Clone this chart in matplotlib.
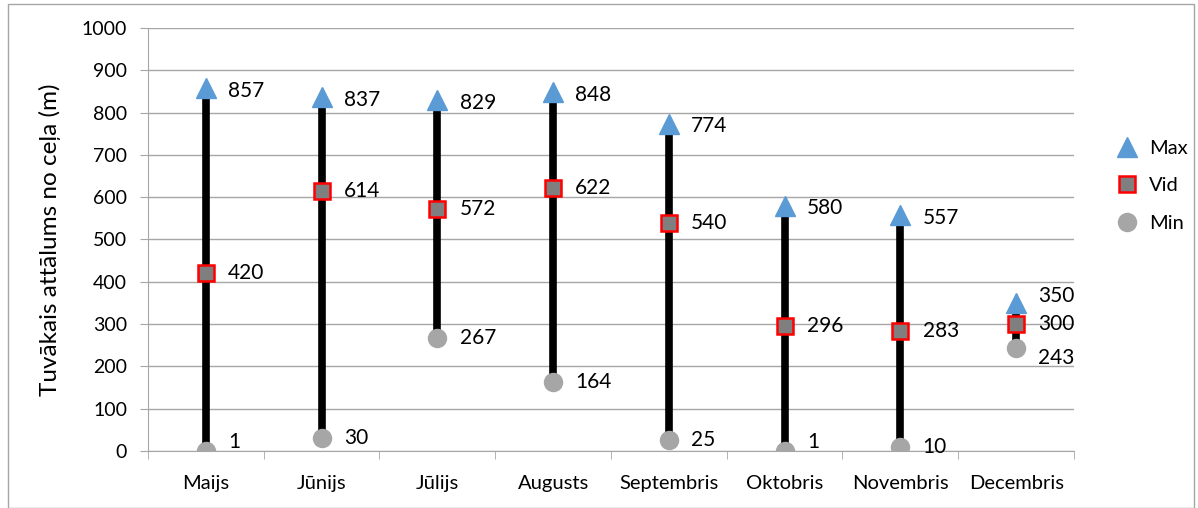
import matplotlib.pyplot as plt
import matplotlib.patches as patches

plt.rcParams['font.family'] = ['Lato', 'DejaVu Sans']

# dati
menesi = ["Maijs", "Jūnijs", "Jūlijs", "Augusts", "Septembris", "Oktobris", "Novembris", "Decembris"]
max_v = [857, 837, 829, 848, 774, 580, 557, 350]
vid_v = [420, 614, 572, 622, 540, 296, 283, 300]
min_v = [1, 30, 267, 164, 25, 1, 10, 243]

fig = plt.figure(figsize=(11.98, 5.08), dpi=100)
ax = fig.add_axes([0.1235, 0.1122, 0.773, 0.8327])

x = list(range(len(menesi)))

# vertikālās līnijas min-max
ax.vlines(x, min_v, max_v, color='black', linewidth=5.5, zorder=2)

ax.plot(x, max_v, linestyle='none', marker='^', markersize=15, color='#5b9bd5', label='Max', zorder=3)
ax.plot(x, vid_v, linestyle='none', marker='s', markersize=12, markerfacecolor='#7f7f7f',
        markeredgecolor='#ff0000', markeredgewidth=1.8, label='Vid', zorder=4)
ax.plot(x, min_v, linestyle='none', marker='o', markersize=13, color='#a6a6a6', label='Min', zorder=3)

# datu etiķetes
for i in x:
    dy_max = -2
    dy_min = 0
    if i == 7:
        dy_max = 5
        dy_min = -7
    if min_v[i] < 5:
        dy_min = 6
    ax.annotate(str(max_v[i]), (i, max_v[i]), xytext=(16, dy_max), textcoords='offset points',
                va='center', fontsize=15)
    ax.annotate(str(vid_v[i]), (i, vid_v[i]), xytext=(16, 0), textcoords='offset points',
                va='center', fontsize=15)
    ax.annotate(str(min_v[i]), (i, min_v[i]), xytext=(16, dy_min), textcoords='offset points',
                va='center', fontsize=15)

ax.set_xlim(-0.5, len(menesi) - 0.5)
ax.set_ylim(0, 1000)
ax.set_yticks(range(0, 1001, 100))
ax.grid(axis='y', color='#a6a6a6', linewidth=1)
ax.set_axisbelow(True)

ax.set_xticks(x)
ax.set_xticklabels(menesi, fontsize=14.5)
ax.set_xticks([i - 0.5 for i in range(len(menesi) + 1)], minor=True)
ax.tick_params(axis='x', which='major', length=0, pad=17)
ax.tick_params(axis='x', which='minor', length=6, color='#a6a6a6')
ax.tick_params(axis='y', length=6, color='#a6a6a6', labelsize=14, pad=9)

for s in ['top', 'right']:
    ax.spines[s].set_visible(False)
ax.spines['left'].set_color('#a6a6a6')
ax.spines['bottom'].set_color('#a6a6a6')

ax.set_ylabel("Tuvākais attālums no ceļa (m)", fontsize=17.5, labelpad=15)

fig.legend(loc='center left', bbox_to_anchor=(0.917, 0.634), frameon=False, fontsize=14.5,
           handletextpad=0.6, labelspacing=1.0, handlelength=1.0)

# rāmis ap attēlu
fig.patches.append(patches.Rectangle((0.007, 0.0), 0.99, 0.993, transform=fig.transFigure,
                                     fill=False, edgecolor='#a6a6a6', linewidth=1))

fig.savefig("out.png", dpi=100)
